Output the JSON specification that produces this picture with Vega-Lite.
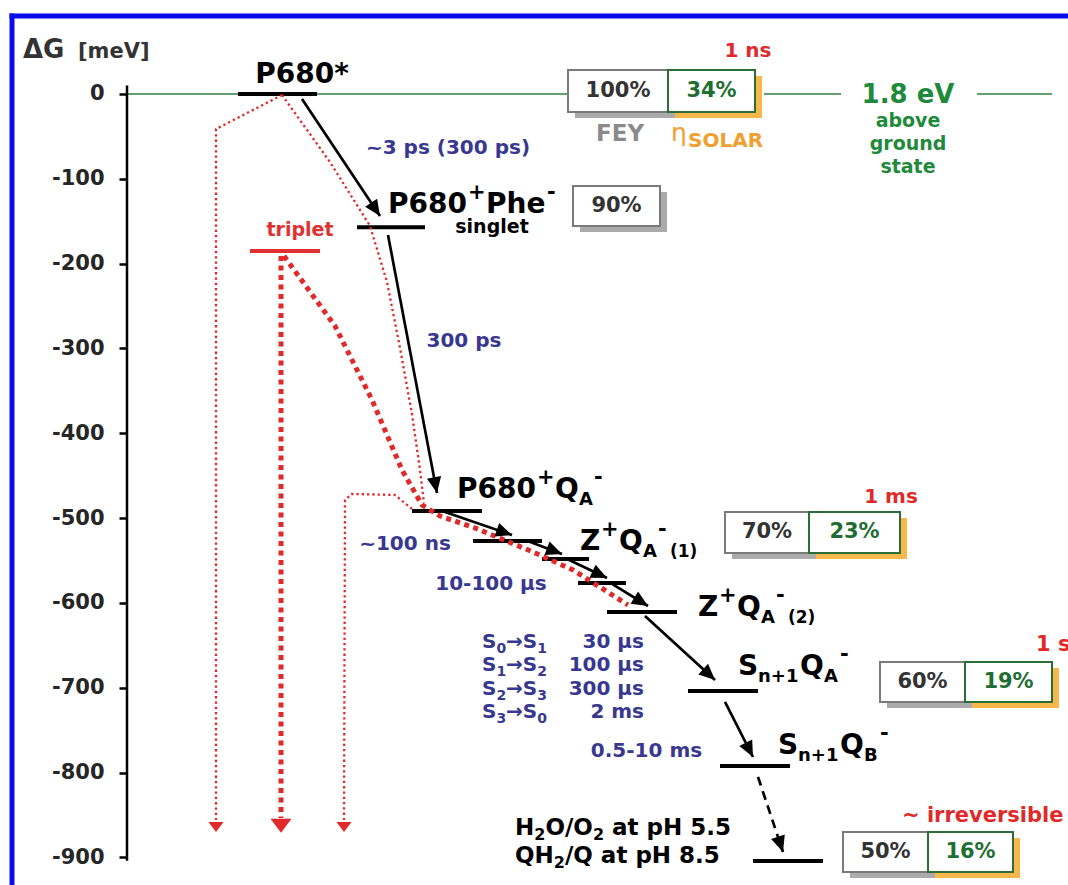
{
"$schema": "https://vega.github.io/schema/vega-lite/v6.json",
"width": 1056, "height": 869,
"autosize": "none",
"padding": {"left": 12, "top": 16, "right": 0, "bottom": 0},
"background": "white",
"config": {"view": {"stroke": null}, "font": "DejaVu Sans", "text": {"font": "DejaVu Sans", "fontWeight": "bold"}},
"datasets": {
"lines": [
{"kind":"frame","x":0,"x2":0,"y":-932.5,"y2":91.95},
{"kind":"frame","x":0,"x2":10.56,"y":91.95,"y2":91.95},
{"kind":"axis","x":1.15,"x2":1.15,"y":10,"y2":-904},
{"kind":"green","x":1.15,"x2":5.56,"y":0,"y2":0},
{"kind":"green","x":7.52,"x2":8.29,"y":0,"y2":0},
{"kind":"green","x":9.65,"x2":10.40,"y":0,"y2":0}
],
"levels": [
{"state":"P680*","kind":"singlet","x":2.26,"x2":3.05,"y":0},
{"state":"P680+Phe-","kind":"singlet","x":3.45,"x2":4.13,"y":-157},
{"state":"triplet","kind":"triplet","x":2.38,"x2":3.08,"y":-185},
{"state":"P680+QA-","kind":"singlet","x":4.00,"x2":4.70,"y":-491.6},
{"state":"Z+QA-(1)","kind":"singlet","x":4.61,"x2":5.30,"y":-527},
{"state":"Z+QA- S1","kind":"singlet","x":5.30,"x2":5.77,"y":-548.2},
{"state":"Z+QA- S2","kind":"singlet","x":5.66,"x2":6.14,"y":-576.4},
{"state":"Z+QA-(2)","kind":"singlet","x":5.95,"x2":6.65,"y":-610.6},
{"state":"Sn+1QA-","kind":"singlet","x":6.76,"x2":7.46,"y":-703.8},
{"state":"Sn+1QB-","kind":"singlet","x":7.08,"x2":7.78,"y":-792.2},
{"state":"H2O/O2","kind":"singlet","x":7.41,"x2":8.11,"y":-904.2}
],
"paths": [
{"path":"tA","weight":"thin","i":1,"x":2.70,"y":-1.2},
{"path":"tA","weight":"thin","i":2,"x":2.04,"y":-41.3},
{"path":"tA","weight":"thin","i":3,"x":2.04,"y":-855.8},
{"path":"tB","weight":"thin","i":1,"x":2.70,"y":-1.2},
{"path":"tB","weight":"thin","i":2,"x":3.18,"y":-80.2},
{"path":"tB","weight":"thin","i":3,"x":3.58,"y":-155.6},
{"path":"tB","weight":"thin","i":4,"x":3.75,"y":-221.6},
{"path":"tB","weight":"thin","i":5,"x":3.88,"y":-299.4},
{"path":"tB","weight":"thin","i":6,"x":4.00,"y":-377.2},
{"path":"tB","weight":"thin","i":7,"x":4.08,"y":-443.2},
{"path":"tB","weight":"thin","i":8,"x":4.12,"y":-482.1},
{"path":"tC","weight":"thin","i":1,"x":4.00,"y":-489.2},
{"path":"tC","weight":"thin","i":2,"x":3.83,"y":-472.7},
{"path":"tC","weight":"thin","i":3,"x":3.40,"y":-471.5},
{"path":"tC","weight":"thin","i":4,"x":3.33,"y":-478.6},
{"path":"tC","weight":"thin","i":5,"x":3.32,"y":-855.8},
{"path":"kA","weight":"thick","i":1,"x":2.69,"y":-191.0},
{"path":"kA","weight":"thick","i":2,"x":2.69,"y":-853.5},
{"path":"kB","weight":"thick","i":1,"x":2.72,"y":-191.0},
{"path":"kB","weight":"thick","i":2,"x":3.23,"y":-273.5},
{"path":"kB","weight":"thick","i":3,"x":3.60,"y":-360.7},
{"path":"kB","weight":"thick","i":4,"x":3.90,"y":-443.2},
{"path":"kB","weight":"thick","i":5,"x":4.10,"y":-484.5},
{"path":"kB","weight":"thick","i":6,"x":4.28,"y":-497.5},
{"path":"kB","weight":"thick","i":7,"x":4.63,"y":-511.6},
{"path":"kB","weight":"thick","i":8,"x":5.21,"y":-539.9},
{"path":"kB","weight":"thick","i":9,"x":5.61,"y":-561.1},
{"path":"kB","weight":"thick","i":10,"x":6.16,"y":-602.4}
],
"heads": [
{"weight":"thin","x":2.04,"y":-870},
{"weight":"thick","x":2.69,"y":-871},
{"weight":"thin","x":3.32,"y":-870}
],
"arrows": [
{"style":"solid","x":2.90,"y":-5.9,"x2":3.68,"y2":-143.8},
{"style":"solid","x":3.76,"y":-166.2,"x2":4.25,"y2":-470.4},
{"style":"solid","x":4.33,"y":-492.7,"x2":5.00,"y2":-519.9},
{"style":"solid","x":5.13,"y":-525.8,"x2":5.50,"y2":-542.3},
{"style":"solid","x":5.53,"y":-547.0,"x2":5.95,"y2":-570.6},
{"style":"solid","x":6.00,"y":-577.6,"x2":6.36,"y2":-603.6},
{"style":"solid","x":6.33,"y":-615.4,"x2":7.03,"y2":-690.8},
{"style":"solid","x":7.13,"y":-716.7,"x2":7.41,"y2":-781.6},
{"style":"dashed","x":7.46,"y":-805.1,"x2":7.71,"y2":-893.6}
],
"boxes": [
{"state":"P680*","kind":"FEY","label":"100%","x":5.56,"x2":6.56,"y":28.3,"y2":-21.2},
{"state":"P680*","kind":"solar","label":"34%","x":6.56,"x2":7.43,"y":28.3,"y2":-21.2},
{"state":"P680+Phe-","kind":"FEY","label":"90%","x":5.61,"x2":6.48,"y":-108.5,"y2":-155.6},
{"state":"P680+QA-","kind":"FEY","label":"70%","x":7.13,"x2":7.97,"y":-492.7,"y2":-541.1},
{"state":"P680+QA-","kind":"solar","label":"23%","x":7.97,"x2":8.88,"y":-492.7,"y2":-541.1},
{"state":"Sn+1QA-","kind":"FEY","label":"60%","x":8.68,"x2":9.53,"y":-669.6,"y2":-716.8},
{"state":"Sn+1QA-","kind":"solar","label":"19%","x":9.53,"x2":10.40,"y":-669.6,"y2":-716.8},
{"state":"H2O/O2","kind":"FEY","label":"50%","x":8.31,"x2":9.16,"y":-870.0,"y2":-917.1},
{"state":"H2O/O2","kind":"solar","label":"16%","x":9.16,"x2":10.01,"y":-870.0,"y2":-917.1}
],
"texts": [
{"role":"dg","text":"ΔG","x":0.11,"y":42.4},
{"role":"meV","text":"[meV]","x":0.66,"y":42.4},
{"role":"stateC","text":"P680*","x":2.90,"y":13.0},
{"role":"state","text":"P680","x":3.76,"y":-140.3},
{"role":"sup","text":"+","x":4.56,"y":-124.0},
{"role":"state","text":"Phe","x":4.74,"y":-140.3},
{"role":"sup","text":"-","x":5.35,"y":-124.0},
{"role":"note","text":"singlet","x":4.80,"y":-163.5},
{"role":"triplet","text":"triplet","x":2.88,"y":-167.4},
{"role":"state","text":"P680","x":4.45,"y":-476.2},
{"role":"sup","text":"+","x":5.25,"y":-460.0},
{"role":"state","text":"Q","x":5.43,"y":-476.2},
{"role":"sub","text":"A","x":5.67,"y":-484.5},
{"role":"sup","text":"-","x":5.82,"y":-460.0},
{"role":"state","text":"Z","x":5.68,"y":-537.5},
{"role":"sup","text":"+","x":5.89,"y":-521.3},
{"role":"state","text":"Q","x":6.07,"y":-537.5},
{"role":"sub","text":"A","x":6.31,"y":-545.8},
{"role":"sup","text":"-","x":6.46,"y":-521.3},
{"role":"subSmall","text":"(1)","x":6.58,"y":-545.8},
{"role":"state","text":"Z","x":6.86,"y":-615.4},
{"role":"sup","text":"+","x":7.07,"y":-599.2},
{"role":"state","text":"Q","x":7.25,"y":-615.4},
{"role":"sub","text":"A","x":7.49,"y":-623.7},
{"role":"sup","text":"-","x":7.64,"y":-599.2},
{"role":"subSmall","text":"(2)","x":7.76,"y":-623.7},
{"role":"state","text":"S","x":7.26,"y":-684.9},
{"role":"sub","text":"n+1","x":7.46,"y":-693.2},
{"role":"state","text":"Q","x":7.88,"y":-684.9},
{"role":"sub","text":"A","x":8.12,"y":-693.2},
{"role":"sup","text":"-","x":8.28,"y":-668.7},
{"role":"state","text":"S","x":7.66,"y":-778.0},
{"role":"sub","text":"n+1","x":7.86,"y":-786.3},
{"role":"state","text":"Q","x":8.28,"y":-778.0},
{"role":"sub","text":"B","x":8.52,"y":-786.3},
{"role":"sup","text":"-","x":8.68,"y":-761.8},
{"role":"water","text":"H","x":5.03,"y":-873.5},
{"role":"waterSub","text":"2","x":5.223,"y":-879.5},
{"role":"water","text":"O/O","x":5.334,"y":-873.5},
{"role":"waterSub","text":"2","x":5.809,"y":-879.5},
{"role":"water","text":"at pH 5.5","x":6.00,"y":-873.5},
{"role":"water","text":"QH","x":5.03,"y":-906.5},
{"role":"waterSub","text":"2","x":5.418,"y":-912.5},
{"role":"water","text":"/Q at pH 8.5","x":5.529,"y":-906.5},
{"role":"blueL","text":"S","x":4.70,"y":-653.1},
{"role":"blueSub","text":"0","x":4.844,"y":-659.0},
{"role":"blueL","text":"→S","x":4.941,"y":-653.1},
{"role":"blueSub","text":"1","x":5.253,"y":-659.0},
{"role":"blueR","text":"30 μs","x":6.32,"y":-653.1},
{"role":"blueL","text":"S","x":4.70,"y":-680.2},
{"role":"blueSub","text":"1","x":4.844,"y":-686.1},
{"role":"blueL","text":"→S","x":4.941,"y":-680.2},
{"role":"blueSub","text":"2","x":5.253,"y":-686.1},
{"role":"blueR","text":"100 μs","x":6.32,"y":-680.2},
{"role":"blueL","text":"S","x":4.70,"y":-708.5},
{"role":"blueSub","text":"2","x":4.844,"y":-714.4},
{"role":"blueL","text":"→S","x":4.941,"y":-708.5},
{"role":"blueSub","text":"3","x":5.253,"y":-714.4},
{"role":"blueR","text":"300 μs","x":6.32,"y":-708.5},
{"role":"blueL","text":"S","x":4.70,"y":-735.6},
{"role":"blueSub","text":"3","x":4.844,"y":-741.5},
{"role":"blueL","text":"→S","x":4.941,"y":-735.6},
{"role":"blueSub","text":"0","x":5.253,"y":-741.5},
{"role":"blueR","text":"2 ms","x":6.32,"y":-735.6},
{"role":"blueC","text":"~3 ps (300 ps)","x":4.36,"y":-70.7},
{"role":"blueC","text":"300 ps","x":4.52,"y":-298.2},
{"role":"blueC","text":"~100 ns","x":3.93,"y":-537.5},
{"role":"blueC","text":"10-100 μs","x":4.79,"y":-584.7},
{"role":"blueC","text":"0.5-10 ms","x":6.345,"y":-781.6},
{"role":"redC","text":"1 ns","x":7.36,"y":43.6},
{"role":"redC","text":"1 ms","x":8.79,"y":-482.1},
{"role":"redL","text":"1 s","x":10.24,"y":-656.5},
{"role":"redL","text":"~ irreversible","x":8.90,"y":-858.2},
{"role":"greenBig","text":"1.8 eV","x":8.96,"y":-10.6},
{"role":"green","text":"above","x":8.96,"y":-38.9},
{"role":"green","text":"ground","x":8.96,"y":-66.0},
{"role":"green","text":"state","x":8.96,"y":-93.1},
{"role":"fey","text":"FEY","x":6.08,"y":-55.4},
{"role":"eta","text":"η","x":6.59,"y":-55.4},
{"role":"etaSub","text":"SOLAR","x":6.76,"y":-62.5}
]
},
"encoding": {
"x": {"field": "x", "type": "quantitative", "scale": {"domain": [0, 10.56], "nice": false, "zero": false}, "axis": null},
"y": {"field": "y", "type": "quantitative", "scale": {"domain": [-932.5, 91.95], "nice": false, "zero": false},
 "axis": {"title": null, "values": [0,-100,-200,-300,-400,-500,-600,-700,-800,-900], "offset": -115, "domain": false, "grid": false, "ticks": true, "tickSize": 8, "tickWidth": 2.5, "tickColor": "black", "labelFont": "DejaVu Sans", "labelFontWeight": "bold", "labelFontSize": 21, "labelColor": "#262626", "labelPadding": 15, "labelExpr": "toString(datum.value)"}}
},
"layer": [
{"data": {"name": "lines"}, "transform": [{"filter": "datum.kind == 'green'"}], "mark": {"type": "rule", "color": "#2f7f3f", "strokeWidth": 1.6}, "encoding": {"x2": {"field": "x2"}, "y2": {"field": "y2"}}},
{"data": {"name": "lines"}, "transform": [{"filter": "datum.kind == 'frame'"}], "mark": {"type": "rule", "color": "#0b0bf0", "strokeWidth": 5, "strokeCap": "square"}, "encoding": {"x2": {"field": "x2"}, "y2": {"field": "y2"}}},
{"data": {"name": "lines"}, "transform": [{"filter": "datum.kind == 'axis'"}], "mark": {"type": "rule", "color": "black", "strokeWidth": 2.5}, "encoding": {"x2": {"field": "x2"}, "y2": {"field": "y2"}}},
{"data": {"name": "boxes"}, "transform": [{"filter": "datum.kind == 'FEY'"}], "mark": {"type": "rect", "fill": "#ababab", "xOffset": 7, "x2Offset": 7, "yOffset": 6, "y2Offset": 6}, "encoding": {"x2": {"field": "x2"}, "y2": {"field": "y2"}}},
{"data": {"name": "boxes"}, "transform": [{"filter": "datum.kind == 'solar'"}], "mark": {"type": "rect", "fill": "#f6b84b", "xOffset": 7, "x2Offset": 7, "yOffset": 6, "y2Offset": 6}, "encoding": {"x2": {"field": "x2"}, "y2": {"field": "y2"}}},
{"data": {"name": "boxes"}, "transform": [{"filter": "datum.kind == 'FEY'"}], "mark": {"type": "rect", "fill": "white", "stroke": "#7a7a7a", "strokeWidth": 2}, "encoding": {"x2": {"field": "x2"}, "y2": {"field": "y2"}}},
{"data": {"name": "boxes"}, "transform": [{"filter": "datum.kind == 'solar'"}], "mark": {"type": "rect", "fill": "white", "stroke": "#2a6e35", "strokeWidth": 2}, "encoding": {"x2": {"field": "x2"}, "y2": {"field": "y2"}}},
{"data": {"name": "levels"}, "transform": [{"filter": "datum.kind != 'triplet'"}], "mark": {"type": "rule", "color": "black", "strokeWidth": 4}, "encoding": {"x2": {"field": "x2"}}},
{"data": {"name": "levels"}, "transform": [{"filter": "datum.kind == 'triplet'"}], "mark": {"type": "rule", "color": "#e03030", "strokeWidth": 4}, "encoding": {"x2": {"field": "x2"}}},
{"data": {"name": "paths"}, "transform": [{"filter": "datum.weight == 'thin'"}], "mark": {"type": "line", "color": "#e02a2a", "strokeWidth": 2.3, "strokeDash": [2.3, 3], "strokeCap": "butt"}, "encoding": {"detail": {"field": "path"}, "order": {"field": "i", "type": "quantitative"}}},
{"data": {"name": "paths"}, "transform": [{"filter": "datum.weight == 'thick'"}], "mark": {"type": "line", "color": "#e02a2a", "strokeWidth": 5, "strokeDash": [5, 4.5], "strokeCap": "butt"}, "encoding": {"detail": {"field": "path"}, "order": {"field": "i", "type": "quantitative"}}},
{"data": {"name": "heads"}, "transform": [{"filter": "datum.weight == 'thin'"}], "mark": {"type": "point", "shape": "M0,0L-0.75,-1L0.75,-1Z", "size": 400, "filled": true, "opacity": 1, "color": "#e02a2a", "strokeWidth": 0}},
{"data": {"name": "heads"}, "transform": [{"filter": "datum.weight == 'thick'"}], "mark": {"type": "point", "shape": "M0,0L-0.75,-1L0.75,-1Z", "size": 784, "filled": true, "opacity": 1, "color": "#e02a2a", "strokeWidth": 0}},
{"data": {"name": "arrows"}, "transform": [{"filter": "datum.style == 'solid'"}], "mark": {"type": "rule", "color": "black", "strokeWidth": 2.7}, "encoding": {"x2": {"field": "x2"}, "y2": {"field": "y2"}}},
{"data": {"name": "arrows"}, "transform": [{"filter": "datum.style == 'dashed'"}], "mark": {"type": "rule", "color": "black", "strokeWidth": 2.7, "strokeDash": [9, 6]}, "encoding": {"x2": {"field": "x2"}, "y2": {"field": "y2"}}},
{"data": {"name": "arrows"}, "transform": [{"calculate": "atan2((datum.x2 - datum.x) * 100, (datum.y2 - datum.y) * 0.8483) * 180 / PI", "as": "ang"}], "mark": {"type": "point", "shape": "M0,0L-0.45,1L0.45,1Z", "size": 1024, "filled": true, "opacity": 1, "color": "black", "strokeWidth": 0}, "encoding": {"x": {"field": "x2", "type": "quantitative"}, "y": {"field": "y2", "type": "quantitative"}, "angle": {"field": "ang", "type": "quantitative", "scale": null}}},
{"data": {"name": "boxes"}, "transform": [{"filter": "datum.kind == 'FEY'"}, {"calculate": "(datum.x + datum.x2) / 2", "as": "cx"}, {"calculate": "(datum.y + datum.y2) / 2", "as": "cy"}], "mark": {"type": "text", "align": "center", "baseline": "middle", "fontSize": 21, "color": "#333333"}, "encoding": {"x": {"field": "cx", "type": "quantitative"}, "y": {"field": "cy", "type": "quantitative"}, "text": {"field": "label"}}},
{"data": {"name": "boxes"}, "transform": [{"filter": "datum.kind == 'solar'"}, {"calculate": "(datum.x + datum.x2) / 2", "as": "cx"}, {"calculate": "(datum.y + datum.y2) / 2", "as": "cy"}], "mark": {"type": "text", "align": "center", "baseline": "middle", "fontSize": 21, "color": "#1e6e32"}, "encoding": {"x": {"field": "cx", "type": "quantitative"}, "y": {"field": "cy", "type": "quantitative"}, "text": {"field": "label"}}},
{"data": {"name": "texts"}, "transform": [{"filter": "datum.role == 'dg'"}], "mark": {"type": "text", "align": "left", "baseline": "alphabetic", "fontSize": 26, "color": "#333333"}, "encoding": {"text": {"field": "text"}}},
{"data": {"name": "texts"}, "transform": [{"filter": "datum.role == 'meV'"}], "mark": {"type": "text", "align": "left", "baseline": "alphabetic", "fontSize": 21, "color": "#333333"}, "encoding": {"text": {"field": "text"}}},
{"data": {"name": "texts"}, "transform": [{"filter": "datum.role == 'stateC'"}], "mark": {"type": "text", "align": "center", "baseline": "alphabetic", "fontSize": 28, "color": "black"}, "encoding": {"text": {"field": "text"}}},
{"data": {"name": "texts"}, "transform": [{"filter": "datum.role == 'state'"}], "mark": {"type": "text", "align": "left", "baseline": "alphabetic", "fontSize": 28, "color": "black"}, "encoding": {"text": {"field": "text"}}},
{"data": {"name": "texts"}, "transform": [{"filter": "datum.role == 'sup'"}], "mark": {"type": "text", "align": "left", "baseline": "alphabetic", "fontSize": 21, "color": "black"}, "encoding": {"text": {"field": "text"}}},
{"data": {"name": "texts"}, "transform": [{"filter": "datum.role == 'sub'"}], "mark": {"type": "text", "align": "left", "baseline": "alphabetic", "fontSize": 18, "color": "black"}, "encoding": {"text": {"field": "text"}}},
{"data": {"name": "texts"}, "transform": [{"filter": "datum.role == 'subSmall'"}], "mark": {"type": "text", "align": "left", "baseline": "alphabetic", "fontSize": 17, "color": "black"}, "encoding": {"text": {"field": "text"}}},
{"data": {"name": "texts"}, "transform": [{"filter": "datum.role == 'note'"}], "mark": {"type": "text", "align": "center", "baseline": "alphabetic", "fontSize": 19, "color": "black"}, "encoding": {"text": {"field": "text"}}},
{"data": {"name": "texts"}, "transform": [{"filter": "datum.role == 'triplet'"}], "mark": {"type": "text", "align": "center", "baseline": "alphabetic", "fontSize": 19, "color": "#e03030"}, "encoding": {"text": {"field": "text"}}},
{"data": {"name": "texts"}, "transform": [{"filter": "datum.role == 'water'"}], "mark": {"type": "text", "align": "left", "baseline": "alphabetic", "fontSize": 23, "color": "black"}, "encoding": {"text": {"field": "text"}}},
{"data": {"name": "texts"}, "transform": [{"filter": "datum.role == 'waterSub'"}], "mark": {"type": "text", "align": "left", "baseline": "alphabetic", "fontSize": 16, "color": "black"}, "encoding": {"text": {"field": "text"}}},
{"data": {"name": "texts"}, "transform": [{"filter": "datum.role == 'blueL'"}], "mark": {"type": "text", "align": "left", "baseline": "alphabetic", "fontSize": 20, "color": "#383890"}, "encoding": {"text": {"field": "text"}}},
{"data": {"name": "texts"}, "transform": [{"filter": "datum.role == 'blueSub'"}], "mark": {"type": "text", "align": "left", "baseline": "alphabetic", "fontSize": 14, "color": "#383890"}, "encoding": {"text": {"field": "text"}}},
{"data": {"name": "texts"}, "transform": [{"filter": "datum.role == 'blueR'"}], "mark": {"type": "text", "align": "right", "baseline": "alphabetic", "fontSize": 20, "color": "#383890"}, "encoding": {"text": {"field": "text"}}},
{"data": {"name": "texts"}, "transform": [{"filter": "datum.role == 'blueC'"}], "mark": {"type": "text", "align": "center", "baseline": "alphabetic", "fontSize": 20, "color": "#383890"}, "encoding": {"text": {"field": "text"}}},
{"data": {"name": "texts"}, "transform": [{"filter": "datum.role == 'redC'"}], "mark": {"type": "text", "align": "center", "baseline": "alphabetic", "fontSize": 20, "color": "#e02a2a"}, "encoding": {"text": {"field": "text"}}},
{"data": {"name": "texts"}, "transform": [{"filter": "datum.role == 'redL'"}], "mark": {"type": "text", "align": "left", "baseline": "alphabetic", "fontSize": 21, "color": "#e02a2a"}, "encoding": {"text": {"field": "text"}}},
{"data": {"name": "texts"}, "transform": [{"filter": "datum.role == 'greenBig'"}], "mark": {"type": "text", "align": "center", "baseline": "alphabetic", "fontSize": 26, "color": "#1f8a3b"}, "encoding": {"text": {"field": "text"}}},
{"data": {"name": "texts"}, "transform": [{"filter": "datum.role == 'green'"}], "mark": {"type": "text", "align": "center", "baseline": "alphabetic", "fontSize": 19, "color": "#1f8a3b"}, "encoding": {"text": {"field": "text"}}},
{"data": {"name": "texts"}, "transform": [{"filter": "datum.role == 'fey'"}], "mark": {"type": "text", "align": "center", "baseline": "alphabetic", "fontSize": 23, "color": "#8a8a8a"}, "encoding": {"text": {"field": "text"}}},
{"data": {"name": "texts"}, "transform": [{"filter": "datum.role == 'eta'"}], "mark": {"type": "text", "align": "left", "baseline": "alphabetic", "fontSize": 25, "fontWeight": "normal", "color": "#f0a030"}, "encoding": {"text": {"field": "text"}}},
{"data": {"name": "texts"}, "transform": [{"filter": "datum.role == 'etaSub'"}], "mark": {"type": "text", "align": "left", "baseline": "alphabetic", "fontSize": 20, "color": "#f0a030"}, "encoding": {"text": {"field": "text"}}}
]
}
